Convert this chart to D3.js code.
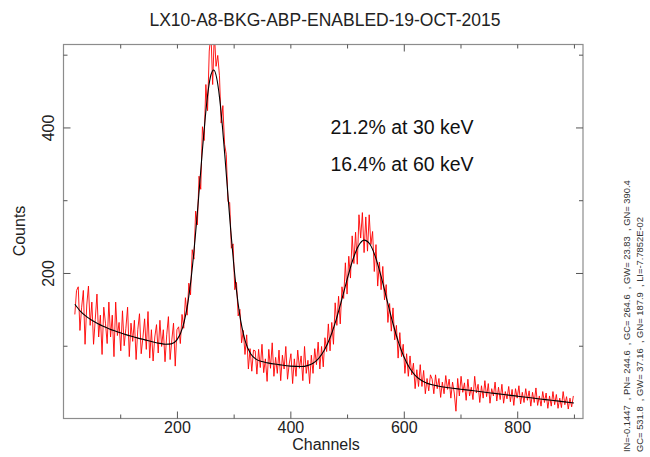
<!DOCTYPE html>
<html>
<head>
<meta charset="utf-8">
<script src="https://cdn.jsdelivr.net/npm/d3@7"></script>
<style>
  html, body { margin: 0; padding: 0; background: #fff; }
  svg { display: block; font-family: "Liberation Sans", Arial, Helvetica, sans-serif; }
</style>
</head>
<body>
<div id="chart"></div>
<script>
// measured spectrum: counts every 3rd channel, starting at channel 20
const firstChannel = 20;
const channelStep = 3;
const counts = [
  143,176,181,121,153,176,102,156,182,128,160,102,136,171,112,142,88,153,131,103,
  160,112,142,85,160,114,132,93,148,100,124,153,85,131,106,135,81,122,144,89,
  111,137,95,147,83,122,79,112,129,90,135,99,122,78,115,140,81,108,131,72,122,
  126,103,143,124,166,142,186,170,232,219,285,266,333,315,401,382,459,423,505,530,
  459,530,484,499,471,406,430,377,363,298,297,234,240,177,187,141,150,104,121,88,
  115,68,96,65,94,
  93,61,95,70,102,63,82,51,95,69,104,58,84,62,94,52,87,68,99,54,75,89,48,82,58,94,
  69,86,52,99,62,80,48,87,
  62,96,74,105,68,99,71,111,92,130,93,132,102,159,128,168,130,181,165,214,171,223,
  193,251,213,256,212,280,248,283,228,277,230,280,239,257,202,239,182,215,177,209,
  163,184,132,158,120,152,108,128,83,118,85,102,62,89,58,86,60,76,41,67,44,74,44,66,
  34,55,38,60,
  54,34,60,41,55,29,50,34,59,40,54,28,50,35,10,55,31,58,36,49,25,54,31,43,26,58,
  35,47,22,45,28,52,30,48,21,41,31,50,24,43,26,47,21,37,27,44,23,40,18,41,28,45,
  20,36,22,41,25,38,17,36,22,42,18,31,17,37,22,35,14,31,17,37,19,33,14,28,15,37,
  19,30,13,28,16,31
];

// fitted curve (two gaussians on a falling background), read at these channels
const fitChannels = [
  20,30,40,50,60,70,80,90,100,110,120,130,140,150,160,170,180,190,200,
  210,220,225,230,235,240,245,250,255,260,265,270,275,280,285,290,295,300,305,310,
  320,330,340,350,360,
  380,400,420,430,440,450,460,470,480,490,500,510,520,530,540,550,560,570,580,590,
  600,610,620,630,640,650,660,
  680,700,720,740,760,780,800,820,840,860,880,900
];
const fitCounts = [
  157.0,147.2,140.3,135.0,130.6,126.8,123.5,120.5,117.8,115.3,113.0,110.8,108.8,106.8,104.9,103.3,102.1,102.6,108.0,
  124.8,162.7,192.3,229.6,273.2,321.1,369.6,414.1,449.9,472.4,478.9,468.3,442.1,403.2,356.4,306.3,257.5,213.3,176.0,146.2,
  107.5,89.0,81.3,78.2,76.4,
  74.0,72.0,71.4,72.7,76.0,82.7,94.0,111.0,133.9,161.5,190.9,217.8,237.2,245.2,239.8,222.1,195.2,164.1,133.3,106.4,
  85.1,69.7,59.4,52.9,48.9,46.4,44.7,
  42.3,40.3,38.4,36.4,34.5,32.6,30.7,28.8,26.9,25.1,23.2,21.3
];

const xMajor = [200, 400, 600, 800];
const xMinor = [100, 300, 500, 700, 900];
const xTopMinor = [100, 200, 300, 400, 500, 700, 800, 900];
const xTopMajor = [600];
const yMajor = [200, 400];
const yMinor = [100, 300, 500];

const title = 'LX10-A8-BKG-ABP-ENABLED-19-OCT-2015';
const notes = ['21.2% at 30 keV', '16.4% at 60 keV'];
const fitInfo = [
  'IN=-0.1447  , PN= 244.6  , GC= 264.6  , GW= 23.83  , GN= 390.4',
  'GC= 531.8  , GW= 37.16  , GN= 187.9  , LI=-7.7852E-02'
];

const width = 650;
const height = 457;
const frame = { left: 63.5, right: 583, top: 44.5, bottom: 418.5 };

const svg = d3
  .select('#chart')
  .append('svg')
  .attr('width', width)
  .attr('height', height)
  .attr('viewBox', `0 0 ${width} ${height}`);

const x = d3.scaleLinear().domain([0, 916]).range([frame.left, frame.right]);
const y = d3.scaleLinear().domain([0, 514]).range([frame.bottom, frame.top]);

svg
  .append('defs')
  .append('clipPath')
  .attr('id', 'plot-clip')
  .append('rect')
  .attr('x', frame.left)
  .attr('y', frame.top)
  .attr('width', frame.right - frame.left)
  .attr('height', frame.bottom - frame.top);

// spectrum
const spectrumLine = d3
  .line()
  .x((d, i) => x(firstChannel + i * channelStep))
  .y(d => y(d));

svg
  .append('path')
  .attr('clip-path', 'url(#plot-clip)')
  .attr('d', spectrumLine(counts))
  .attr('fill', 'none')
  .attr('stroke', '#ff0000')
  .attr('stroke-width', 1)
  .attr('stroke-opacity', 0.9);

// fit
const fitLine = d3
  .line()
  .x(d => x(d[0]))
  .y(d => y(d[1]))
  .curve(d3.curveMonotoneX);

svg
  .append('path')
  .attr('clip-path', 'url(#plot-clip)')
  .attr('d', fitLine(fitChannels.map((c, i) => [c, fitCounts[i]])))
  .attr('fill', 'none')
  .attr('stroke', '#000')
  .attr('stroke-width', 1.1);

// frame
svg
  .append('rect')
  .attr('x', frame.left)
  .attr('y', frame.top)
  .attr('width', frame.right - frame.left)
  .attr('height', frame.bottom - frame.top)
  .attr('fill', 'none')
  .attr('stroke', '#8c8c8c')
  .attr('stroke-width', 1.2);

const addAxis = (axis, transform) => {
  const g = svg.append('g').attr('transform', transform).call(axis);
  g.select('.domain').remove();
  g.selectAll('.tick line').attr('stroke', '#555');
  g.selectAll('.tick text')
    .attr('fill', '#222')
    .style('font-size', '16px')
    .style('font-family', '"Liberation Sans", Arial, sans-serif');
  return g;
};

addAxis(
  d3.axisBottom(x).tickValues(xMajor).tickSize(-7).tickPadding(3.5),
  `translate(0,${frame.bottom})`
);
addAxis(
  d3.axisBottom(x).tickValues(xMinor).tickSize(-4).tickFormat(''),
  `translate(0,${frame.bottom})`
);
addAxis(
  d3.axisTop(x).tickValues(xTopMinor).tickSize(-4).tickFormat(''),
  `translate(0,${frame.top})`
);
addAxis(
  d3.axisTop(x).tickValues(xTopMajor).tickSize(-7).tickFormat(''),
  `translate(0,${frame.top})`
);

const leftMajor = addAxis(
  d3.axisLeft(y).tickValues(yMajor).tickSize(-7),
  `translate(${frame.left},0)`
);
leftMajor
  .selectAll('.tick text')
  .attr('transform', 'rotate(-90)')
  .attr('x', 0)
  .attr('y', -9.5)
  .attr('dy', 0)
  .attr('text-anchor', 'middle');

addAxis(
  d3.axisLeft(y).tickValues(yMinor).tickSize(-4).tickFormat(''),
  `translate(${frame.left},0)`
);
addAxis(
  d3.axisRight(y).tickValues(yMajor).tickSize(-7).tickFormat(''),
  `translate(${frame.right},0)`
);
addAxis(
  d3.axisRight(y).tickValues(yMinor).tickSize(-4).tickFormat(''),
  `translate(${frame.right},0)`
);

// labels
svg
  .append('text')
  .attr('x', 325)
  .attr('y', 25.5)
  .attr('text-anchor', 'middle')
  .attr('fill', '#222')
  .style('font-size', '17.5px')
  .text(title);

svg
  .append('text')
  .attr('x', 326)
  .attr('y', 450)
  .attr('text-anchor', 'middle')
  .attr('fill', '#222')
  .style('font-size', '16px')
  .text('Channels');

svg
  .append('text')
  .attr('transform', 'translate(25,231) rotate(-90)')
  .attr('text-anchor', 'middle')
  .attr('fill', '#222')
  .style('font-size', '16px')
  .text('Counts');

svg
  .selectAll('.note')
  .data(notes)
  .join('text')
  .attr('class', 'note')
  .attr('x', 330.5)
  .attr('y', (d, i) => 134 + i * 36.5)
  .attr('fill', '#111')
  .style('font-size', '19.5px')
  .text(d => d);

svg
  .selectAll('.fit-info')
  .data(fitInfo)
  .join('text')
  .attr('class', 'fit-info')
  .attr('transform', (d, i) => `translate(${629.5 + i * 13},452) rotate(-90)`)
  .attr('fill', '#333')
  .style('font-size', '9.4px')
  .style('white-space', 'pre')
  .text(d => d);
</script>
</body>
</html>
